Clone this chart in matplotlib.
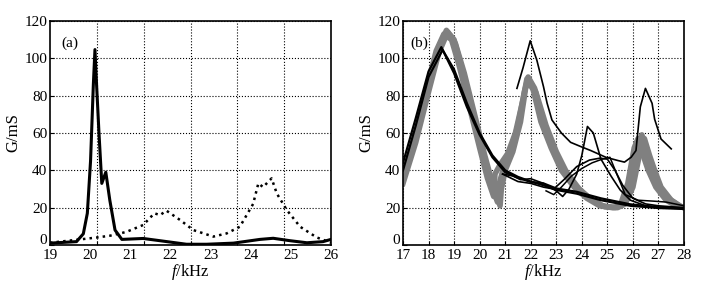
import numpy as np
import matplotlib
matplotlib.use("Agg")
from matplotlib import pyplot as plt

plt.rcParams["font.family"] = ["Liberation Serif", "DejaVu Serif"]
plt.rcParams["mathtext.fontset"] = "custom"
plt.rcParams["mathtext.rm"] = "Liberation Serif"
plt.rcParams["mathtext.it"] = "Liberation Serif:italic"

# ---- panel (a) data ----
a_solid_f = [19.0, 19.66, 19.83, 19.93, 20.01, 20.08, 20.12, 20.16, 20.22, 20.29, 20.39,
             20.49, 20.62, 20.79, 21.32, 21.74, 22.4, 22.9, 23.57, 24.23, 24.56, 24.98,
             25.4, 25.8, 26.0]
a_solid_g = [1.0, 1.8, 6, 17, 45, 86, 104.7, 86, 60, 33, 39,
             24, 8, 3, 3.5, 2.3, 0.4, 0.4, 1.0, 3.0, 3.6, 2.3,
             1.2, 1.8, 3.0]
a_dot_f = [19.0, 19.75, 20.16, 20.5, 20.9, 21.32, 21.6, 21.74, 21.9, 22.24, 22.57, 23.07,
           23.4, 23.73, 24.06, 24.19, 24.31, 24.44, 24.52, 24.65, 24.9, 25.23, 25.64, 26.0]
a_dot_g = [1.2, 3.0, 4.0, 5.0, 7.0, 10.7, 17, 16, 18.4, 13.4, 8.0, 4.5,
           6.2, 9.8, 22, 33, 31, 34, 35.7, 27.6, 18.7, 9.8, 4.1, 1.2]

# ---- panel (b) data ----
# grey band (three overlapping sweeps)
g1_f = [17, 17.5, 18, 18.3, 18.6, 18.9, 19.2, 19.6, 20.0, 20.3, 20.55, 20.6, 20.8, 21.1,
        21.4, 21.7, 21.85, 22.1, 22.4, 22.8, 23.2, 23.7, 24.2, 24.7, 25.2, 25.5, 25.8,
        26.05, 26.2, 26.4, 26.6, 26.9, 27.3, 27.7, 28]
g1_g = [36, 60, 88, 104, 113, 110, 96, 74, 52, 36, 26, 38, 43, 49,
        60, 78, 89, 83, 66, 52, 40, 31, 25, 21, 20, 21, 33,
        52, 57, 48, 40, 31, 24, 21, 20]
g2_f = [17, 17.5, 18, 18.4, 18.7, 19.0, 19.3, 19.7, 20.1, 20.4, 20.7, 20.75, 20.95, 21.2,
        21.5, 21.75, 21.9, 22.15, 22.5, 22.9, 23.3, 23.8, 24.3, 24.8, 25.3, 25.6, 25.9,
        26.15, 26.35, 26.55, 26.75, 27.0, 27.4, 27.8, 28]
g2_g = [35, 57, 85, 106, 115, 110, 95, 72, 50, 34, 23, 32, 42, 50,
        64, 82, 90, 84, 65, 51, 40, 31, 25, 21, 20, 21.5, 32,
        50, 59, 50, 41, 32, 25, 21, 20]
g3_f = [17, 17.5, 18, 18.4, 18.75, 19.05, 19.4, 19.8, 20.2, 20.5, 20.8, 20.85, 21.0, 21.3,
        21.6, 21.8, 21.95, 22.2, 22.6, 23.0, 23.4, 23.9, 24.4, 24.9, 25.4, 25.7, 26.0,
        26.25, 26.45, 26.65, 26.85, 27.1, 27.5, 27.9, 28]
g3_g = [33, 55, 82, 103, 114, 108, 92, 70, 48, 33, 21, 30, 40, 50,
        66, 84, 88, 82, 64, 50, 39, 30, 24, 20.5, 20, 22, 31,
        48, 57, 48, 40, 31, 24, 20.5, 20]

# black curves
b1_f = [17, 17.5, 18, 18.5, 19.0, 19.5, 20.0, 20.5, 21.0, 21.5, 22.0, 22.5, 23.0, 23.8,
        24.75, 25.9, 27, 28]
b1_g = [44, 68, 93, 106, 92, 74, 59, 47, 39, 36, 33.8, 33, 30.3, 28.5,
        25, 21.8, 20.2, 19.6]
b2_f = [17, 17.5, 18, 18.55, 19.0, 19.5, 20.0, 20.5, 21.0, 21.5, 22.0, 22.5, 23.0, 23.8,
        24.75, 25.9, 27, 28]
b2_g = [40, 64, 90, 104.5, 94, 76, 60, 48, 40, 36.5, 34, 32, 29.5, 27.5,
        24, 21, 19.8, 19.3]
ba_f = [21.46, 21.7, 21.98, 22.24, 22.5, 22.64, 22.83, 23.2, 23.56, 24.0, 24.35, 24.94,
        25.4, 25.67, 25.93, 26.12, 26.29, 26.49, 26.75, 26.85, 27.1, 27.5]
ba_g = [83.9, 95, 109.4, 99, 84.8, 76, 67, 60, 55, 52.5, 50.6, 47,
        45.3, 44.4, 47, 50.6, 74, 83.9, 75.9, 67.4, 56.8, 51.5]
bc_f = [20.9, 21.3, 21.6, 22.0, 22.5, 23.0, 23.25, 23.5, 23.8, 24.0, 24.22, 24.45,
        24.75, 25.14, 25.5, 25.9, 26.5, 27.0, 28.0]
bc_g = [38, 37, 35, 35.5, 33, 29, 26, 30, 38, 48, 63.5, 60,
        46, 37, 29.5, 24, 21, 20.3, 19.7]
bd_f = [20.9, 21.5, 22.0, 22.5, 22.9, 23.3, 23.8, 24.3, 24.7, 25.0, 25.3, 25.6, 26.0,
        26.5, 27.0, 28.0]
bd_g = [38, 34, 33, 31, 30, 35, 42, 45.5, 46.5, 46, 40, 32, 25,
        22, 21, 20]
be_f = [22.6, 22.9, 23.2, 23.6, 24.0, 24.4, 24.8, 25.1, 25.7, 26.2, 26.8, 27.3, 28.0]
be_g = [29, 27, 31, 37, 41, 44, 46, 47, 27, 24, 23.5, 23, 21]

y_ticks = [0, 20, 40, 60, 80, 100, 120]


def style_axes(ax, xlim):
    ax.set_ylim(0, 120)
    ax.set_yticks(y_ticks)
    # the "0" is drawn a little higher, clear of the x labels
    ax.set_yticklabels([""] + [str(v) for v in y_ticks[1:]])
    ax.annotate("0", xy=(0, 0), xycoords=("axes fraction", "data"),
                xytext=(-2, 3), textcoords="offset points",
                ha="right", va="center", fontsize=11)
    ax.set_xlim(*xlim)
    ax.tick_params(direction="in", length=3, width=0.8, labelsize=11, pad=2,
                   top=False, right=False)
    ax.tick_params(axis="x", pad=3)
    for sp in ax.spines.values():
        sp.set_linewidth(1.2)
    ax.set_xlabel("$\\it{f}$/kHz", fontsize=12, labelpad=0)
    ax.set_ylabel("G/mS", fontsize=12, labelpad=2)


fig = plt.figure(figsize=(7.06, 2.88), dpi=100)
ax1 = fig.add_axes([50 / 706, 43 / 288, 281 / 706, 224 / 288])
ax2 = fig.add_axes([403 / 706, 43 / 288, 281 / 706, 224 / 288])

# panel (a)
style_axes(ax1, (19, 26))
grid_a = np.linspace(19, 26, 7)[1:-1]
ax1.set_xticks(np.arange(19, 27))
ax1.tick_params(axis="x", which="major", length=0)
ax1.set_xticks(grid_a, minor=True)
ax1.tick_params(axis="x", which="minor", direction="in", length=3, width=0.8)
ax1.grid(True, axis="x", which="minor", color="black", linestyle=":", linewidth=0.8)
ax1.grid(True, axis="y", which="major", color="black", linestyle=":", linewidth=0.8)
ax1.plot(a_solid_f, a_solid_g, color="black", linewidth=2.2)
ax1.plot(a_dot_f, a_dot_g, color="black", linewidth=1.8, linestyle=":")
ax1.text(0.04, 0.93, "(a)", transform=ax1.transAxes, fontsize=11, va="top")

# panel (b)
style_axes(ax2, (17, 28))
ax2.set_xticks(np.arange(17, 29))
ax2.grid(True, color="black", linestyle=":", linewidth=0.8)
for gf, gg in [(g1_f, g1_g), (g2_f, g2_g), (g3_f, g3_g)]:
    ax2.plot(gf, gg, color="#808080", linewidth=4.0)
for bf, bg, lw in [(b1_f, b1_g, 1.6), (b2_f, b2_g, 1.6), (ba_f, ba_g, 1.2),
                   (bc_f, bc_g, 1.2), (bd_f, bd_g, 1.2), (be_f, be_g, 1.1)]:
    ax2.plot(bf, bg, color="black", linewidth=lw)
ax2.text(0.025, 0.93, "(b)", transform=ax2.transAxes, fontsize=11, va="top")

fig.savefig("out.png", dpi=100)
